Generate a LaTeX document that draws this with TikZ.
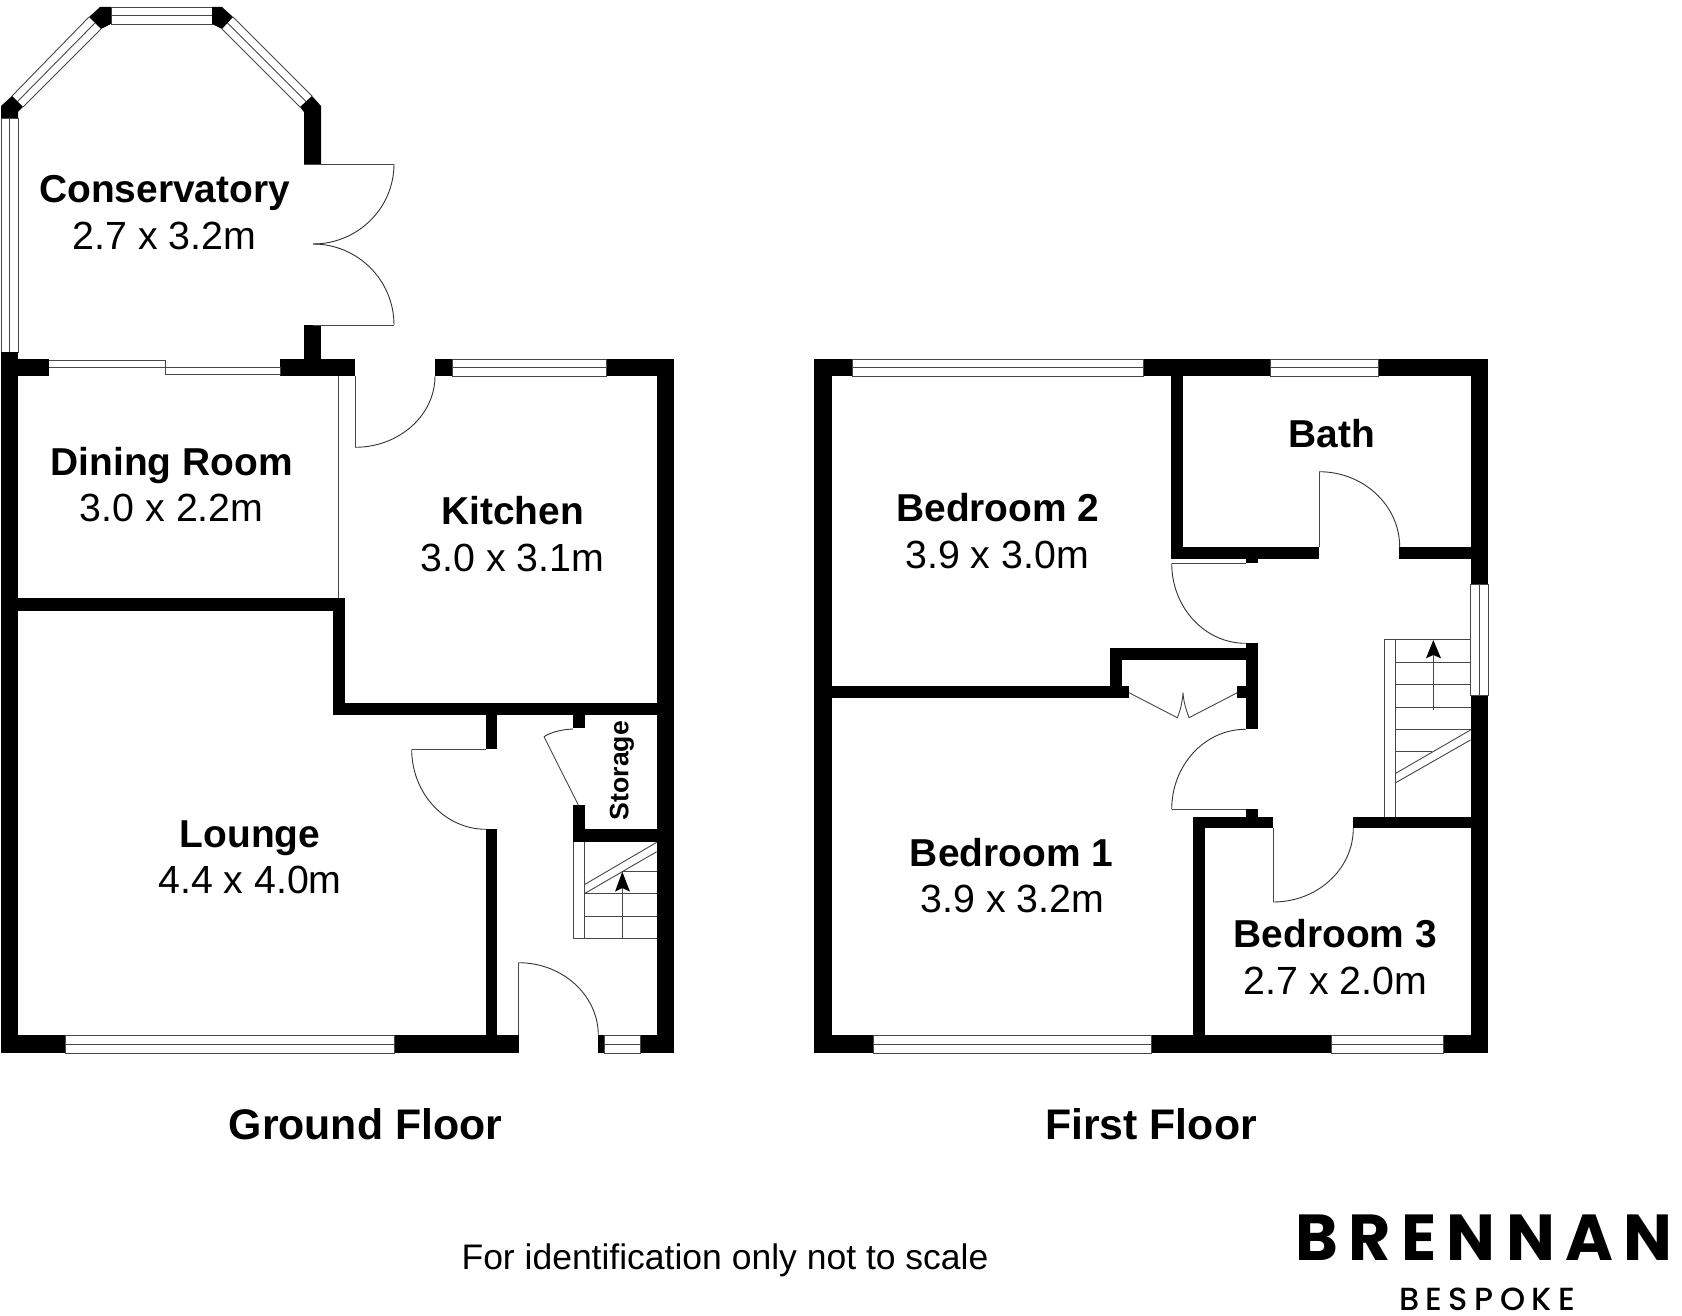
\documentclass[tikz,border=0pt]{standalone}
\usepackage{fontspec}
\setmainfont{Liberation Sans}
\newfontfamily\brandA{Poppins}[LetterSpace=16]
\newfontfamily\brandAend{Poppins}
\newfontfamily\brandB{Poppins Medium}[LetterSpace=20]
\newfontfamily\brandBend{Poppins Medium}
\usetikzlibrary{calc}
\tikzset{
  wallfill/.style={fill=black},
  thin line/.style={draw=black!72,line width=0.9pt},
  arcline/.style={draw=black!80,line width=0.9pt},
  roomname/.style={anchor=base,inner sep=0pt,font=\bfseries\fontsize{38.9}{46}\selectfont},
  roomsize/.style={anchor=base,inner sep=0pt,font=\fontsize{39.3}{46}\selectfont},
  floorname/.style={anchor=base,inner sep=0pt,font=\bfseries\fontsize{42.8}{50}\selectfont},
}
\newcommand{\wl}[4]{\fill[wallfill] (#1,#2) rectangle (#3,#4);}
\newcommand{\hwin}[4]{\draw[thin line] (#1,#2) rectangle (#3,#4) (#1,{(#2+#4)/2}) -- (#3,{(#2+#4)/2});}
\newcommand{\vwin}[4]{\draw[thin line] (#1,#2) rectangle (#3,#4) ({(#1+#3)/2},#2) -- ({(#1+#3)/2},#4);}
\newcommand{\qarc}[3]{\draw[arcline] (#1) .. controls ($(#1)!.5523!(#2)$) and ($(#3)!.5523!(#2)$) .. (#3);}
\begin{document}
\begin{tikzpicture}[x=1pt,y=-1pt]
\useasboundingbox (0,0) rectangle (1682,1316);
\fill[white] (0,0) rectangle (1682,1316);

% ---- conservatory glazing
\hwin{111}{7}{212}{24}
\draw[thin line] (233,17) -- (312,96) (222,29) -- (300,107) (227.5,23) -- (306,101.5);
\draw[thin line] (89,17) -- (12,96) (101,29) -- (23,107) (95,23) -- (17.5,101.5);
\vwin{1}{118}{18}{352}
\fill[wallfill] (89,17) -- (100,7) -- (111,7) -- (111,24) -- (101,29) -- cycle;
\fill[wallfill] (212,7) -- (222,7) -- (233,17) -- (222,29) -- (212,24) -- cycle;
\fill[wallfill] (312,96) -- (321,106) -- (321,164) -- (304,164) -- (304,112) -- (300,107) -- cycle;
\fill[wallfill] (12,96) -- (23,107) -- (18,112) -- (18,118) -- (1,118) -- (1,106) -- cycle;
\wl{304}{325}{321}{360}
% conservatory doors
\draw[thin line] (304,164) -- (394,164) (313,325) -- (394,325);
\qarc{394,164}{394,244}{313,244}
\qarc{394,325}{394,244}{313,244}

% ---- ground floor walls
\wl{1}{352}{18.3}{1053}
\wl{18}{359}{49.3}{376}
\wl{280}{359}{354.5}{376}
\wl{435}{359}{452}{376}
\wl{606.7}{359}{674.3}{376}
\wl{656.7}{359}{674.3}{1053}
\wl{18}{598.3}{344.5}{610.7}
\wl{332.7}{598.3}{344.5}{715}
\wl{332.7}{702.7}{674.3}{715}
\wl{485.7}{715}{497.3}{749.3}
\wl{485.7}{829.3}{497.3}{1040}
\wl{572.7}{715}{585}{728.3}
\wl{572.7}{805}{585}{841.7}
\wl{572.7}{829.3}{657}{841.7}
\wl{1}{1035.3}{65.7}{1053}
\wl{394.4}{1035.3}{518.5}{1053}
\wl{598.3}{1035.3}{604}{1053}
\wl{640}{1035.3}{674.3}{1053}
% windows, ground floor
\hwin{65.7}{1035.3}{394.4}{1053}
\hwin{604}{1035.3}{640}{1053}
\hwin{452}{359}{606.7}{376}
\draw[thin line] (49.3,360.7) -- (165,360.7) -- (165,374) -- (280,374) -- (280,367.3) -- (49.3,367.3);
\draw[thin line] (338.5,376) -- (338.5,598.3);
% ground floor doors
\draw[thin line] (355,376) -- (355,447.3);
\qarc{355,447.3}{435,447.3}{435,376}
\draw[thin line] (486,749.3) -- (411.7,749.3);
\qarc{411.7,749.3}{411.7,829.3}{486,829.3}
\draw[thin line] (578.3,805) -- (544,736.7);
\draw[arcline] (544,736.7) .. controls (552,731.5) and (563,729.5) .. (573,729);
\draw[thin line] (518.4,1035.3) -- (518.4,962.7);
\qarc{518.4,962.7}{598.3,962.7}{598.3,1035.3}
% ground floor stairs
\draw[thin line] (573.3,841.7) -- (573.3,938.3) -- (656.7,938.3);
\draw[thin line] (584.5,841.7) -- (584.5,938.3);
\draw[thin line] (622.7,871.7) -- (656.7,871.7);
\draw[thin line] (584.5,893.7) -- (656.7,893.7);
\draw[thin line] (584.5,916.3) -- (656.7,916.3);
\draw[thin line] (585,884.3) -- (656.7,842.3);
\draw[thin line] (585,893.3) -- (656.7,851.7);
\draw[thin line] (622.3,938.3) -- (622.3,885);
\fill[black] (622.3,871.7) -- (630,891.7) -- (622.3,888) -- (615,891.7) -- cycle;

% ---- first floor walls
\wl{813.9}{359}{831.5}{1053}
\wl{813.9}{359}{852.3}{376}
\wl{1143}{359}{1270.5}{376}
\wl{1378.7}{359}{1488}{376}
\wl{1470.5}{359}{1488}{584.3}
\wl{1470.5}{695}{1488}{1053}
\wl{1170.5}{376}{1182.7}{559}
\wl{1170.5}{546.7}{1318.8}{559}
\wl{1399.4}{546.7}{1471}{559}
\wl{1245.5}{559}{1257.5}{563.3}
\wl{1110}{647.7}{1257.5}{660}
\wl{1245.7}{643.3}{1257.5}{729.3}
\wl{1237.3}{686}{1246}{698.3}
\wl{1110}{647.7}{1122.3}{698.3}
\wl{831}{686}{1129}{698.3}
\wl{1245.5}{809.3}{1257.5}{817}
\wl{1192.7}{816.7}{1273.3}{828.3}
\wl{1353.3}{816.7}{1471}{828.3}
\wl{1192.9}{816.7}{1205.1}{1040}
\wl{813.9}{1035.3}{873.8}{1053}
\wl{1151.5}{1035.3}{1331.3}{1053}
\wl{1443}{1035.3}{1488}{1053}
% windows, first floor
\hwin{852.3}{359}{1143}{376}
\hwin{1270.5}{359}{1378.7}{376}
\vwin{1470.5}{584.3}{1488}{695}
\hwin{873.8}{1035.3}{1151.5}{1053}
\hwin{1331.3}{1035.3}{1443}{1053}
% first floor doors
\draw[thin line] (1319,547) -- (1319,471.7);
\qarc{1319,471.7}{1399.7,471.7}{1399.7,547}
\draw[thin line] (1245.5,563.3) -- (1171.7,563.3);
\qarc{1171.7,563.3}{1171.7,643.3}{1245.5,643.3}
\draw[thin line] (1245.5,809.3) -- (1171.7,809.3);
\qarc{1171.7,809.3}{1171.7,729.3}{1245.5,729.3}
\draw[thin line] (1273.3,828.3) -- (1273.3,902);
\qarc{1273.3,902}{1353.3,902}{1353.3,828.3}
% cupboard doors
\draw[thin line] (1237.3,692.7) -- (1189,717.7) .. controls (1185.5,708) and (1183.7,702) .. (1183,692.7)
   .. controls (1182.3,702) and (1180.5,710) .. (1177.3,717.7) -- (1129,692.7);
% first floor stairs
\draw[thin line] (1470.5,639.7) -- (1384.3,639.7) -- (1384.3,816.7);
\draw[thin line] (1395.7,639.7) -- (1395.7,816.7);
\draw[thin line] (1395.7,662.3) -- (1470.5,662.3);
\draw[thin line] (1395.7,684.3) -- (1470.5,684.3);
\draw[thin line] (1395.7,707.3) -- (1470.5,707.3);
\draw[thin line] (1395.7,729.3) -- (1470.5,729.3);
\draw[thin line] (1395.7,751) -- (1431.7,751);
\draw[thin line] (1395.7,773.3) -- (1470.5,730);
\draw[thin line] (1395.7,782.7) -- (1470.5,740);
\draw[thin line] (1433.3,710) -- (1433.3,655);
\fill[black] (1433.3,640) -- (1441,658.3) -- (1433.3,655) -- (1426,658.3) -- cycle;

% ---- labels
\node[roomname] (consname) at (164.7,203) {Conservatory};
\node[roomsize] (conssize) at (164.5,249.3) {2.7 x 3.2m};
\node[roomname] (dinname) at (171.7,475) {Dining Room};
\node[roomsize] (dinsize) at (171.7,521.7) {3.0 x 2.2m};
\node[roomname] (kitname) at (512.7,524) {Kitchen};
\node[roomsize] (kitsize) at (512.3,571) {3.0 x 3.1m};
\node[roomname] (lngname) at (250,847) {Lounge};
\node[roomsize] (lngsize) at (250,893) {4.4 x 4.0m};
\node[roomname] (bd2name) at (997.9,521.7) {Bedroom 2};
\node[roomsize] (bd2size) at (997.2,568.3) {3.9 x 3.0m};
\node[roomname] (bathname) at (1332,447.5) {Bath};
\node[roomname] (bd1name) at (1011.5,866.5) {Bedroom 1};
\node[roomsize] (bd1size) at (1012.4,912) {3.9 x 3.2m};
\node[roomname] (bd3name) at (1335.2,947.3) {Bedroom 3};
\node[roomsize] (bd3size) at (1335.5,994.3) {2.7 x 2.0m};
\node[anchor=base,inner sep=0pt,rotate=90,font=\bfseries\fontsize{26.6}{30}\selectfont] (storname) at (628.3,770.5) {Storage};
\node[floorname] (gfname) at (365.4,1139) {Ground Floor};
\node[floorname] (ffname) at (1151,1139) {First Floor};
\node[anchor=base,inner sep=0pt,font=\fontsize{35.5}{40}\selectfont] (note) at (725,1269.5) {For identification only not to scale};
\node[anchor=base west,inner sep=0pt,font=\bfseries\fontsize{65}{70}\selectfont] (brandmain) at (1295,1260.7) {{\brandA\bfseries BRENNA}\kern10.4pt{\brandAend\bfseries N}};
\node[anchor=base west,inner sep=0pt,font=\fontsize{32}{34}\selectfont] (brandsub) at (1399,1310) {{\brandB BESPOK}\kern6.4pt{\brandBend E}};
\end{tikzpicture}
\end{document}
